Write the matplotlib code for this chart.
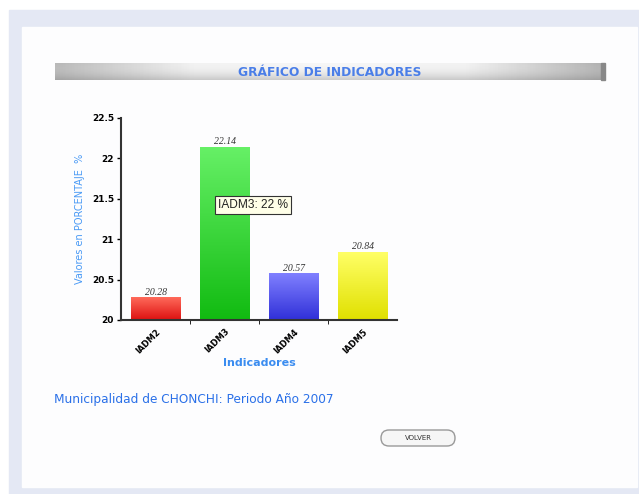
import matplotlib
matplotlib.use("Agg")
import matplotlib.pyplot as plt
import numpy as np
from matplotlib.patches import Rectangle, FancyBboxPatch
from matplotlib.colors import LinearSegmentedColormap

categories = ["IADM2", "IADM3", "IADM4", "IADM5"]
values = [20.28, 22.14, 20.57, 20.84]
value_labels = ["20.28", "22.14", "20.57", "20.84"]
yticks = [20, 20.5, 21, 21.5, 22, 22.5]
ytick_labels = ["20", "20.5", "21", "21.5", "22", "22.5"]
bar_colors = [("#ff6a5a", "#dd1111"), ("#66f066", "#11bb11"),
              ("#8080ff", "#3030d8"), ("#ffff66", "#e0e000")]

W, H = 639, 494
fig = plt.figure(figsize=(W / 100, H / 100), dpi=100)
fig.patch.set_facecolor("white")

def px(x, y, w, h):
    return (x / W, 1 - (y + h) / H, w / W, h / H)

# page frame
bg = fig.add_axes([0, 0, 1, 1], zorder=-5)
bg.set_xlim(0, W); bg.set_ylim(H, 0); bg.axis("off")
bg.add_patch(Rectangle((9, 10), W - 9, H - 10, color="#e4e8f4"))
bg.add_patch(Rectangle((22, 27), 615, 460, color="#fdfdfe"))

# title bar with gray gradient
grad = np.linspace(0, 1, 200).reshape(1, -1)
tcmap = LinearSegmentedColormap.from_list("t", ["#b8b8b8", "#f2f2f2", "#f7f7f7", "#f2f2f2", "#b0b0b0"])
bg.imshow(grad, extent=(55, 605, 80, 63), cmap=tcmap, aspect="auto", zorder=1)
bg.imshow(np.linspace(0, 1, 20).reshape(-1, 1), extent=(55, 605, 80, 63),
          cmap=LinearSegmentedColormap.from_list("v", [(1, 1, 1, 0.0), (0.5, 0.5, 0.5, 0.35)]),
          aspect="auto", zorder=2)
bg.add_patch(Rectangle((601, 63), 4, 17, color="#888888", zorder=3))
bg.text(330, 72, "GRÁFICO DE INDICADORES", color="#4a7ee8", fontsize=8.8,
        fontweight="bold", ha="center", va="center", zorder=4)

# footer text
bg.text(54, 399, "Municipalidad de CHONCHI: Periodo Año 2007", color="#2a70e8",
        fontsize=8.7, ha="left", va="center")

# button
bg.add_patch(FancyBboxPatch((381, 430), 74, 16, boxstyle="round,pad=0,rounding_size=8",
                            fc="#f6f6f6", ec="#999999", lw=1.0))
bg.text(418, 438, "VOLVER", fontsize=5, ha="center", va="center", color="#333333")

# chart
ax = fig.add_axes(px(121, 118, 276, 202))
x = np.arange(len(categories))
bw = 0.72
ax.bar(x, values, width=bw, color="none", edgecolor="none")
for xi, v, (top, bot), lab in zip(x, values, bar_colors, value_labels):
    cmap = LinearSegmentedColormap.from_list("b", [bot, top])
    ax.imshow(np.linspace(0, 1, 100).reshape(-1, 1), extent=(xi - bw / 2, xi + bw / 2, 20, v),
              origin="lower", cmap=cmap, aspect="auto", zorder=2)
    ax.text(xi, v + 0.01, lab, ha="center", va="bottom", fontsize=7,
            fontstyle="italic", family="Liberation Serif", color="#333333", zorder=3)
ax.set_xlim(-0.5, 3.5)
ax.set_ylim(20, 22.5)

ax.set_yticks(yticks)
ax.set_yticklabels(ytick_labels, fontsize=6.5, fontweight="bold")
ax.set_xticks(x)
ax.set_xticklabels(categories, rotation=45, ha="right", rotation_mode="anchor",
                   fontsize=6, fontweight="bold")
ax.set_xticks([0.5, 1.5, 2.5], minor=True)
ax.tick_params(axis="x", which="major", length=0, pad=5)
ax.tick_params(axis="x", which="minor", length=3, direction="out")
ax.tick_params(axis="y", length=3, width=1, pad=2)
for s in ["top", "right"]:
    ax.spines[s].set_visible(False)
for s in ["left", "bottom"]:
    ax.spines[s].set_linewidth(1.5)
    ax.spines[s].set_color("#333333")
ax.set_facecolor("none")
ax.set_ylabel("Valores en PORCENTAJE  %", color="#4a9af5", fontsize=7, labelpad=5)
ax.set_xlabel("Indicadores", color="#3a8cf0", fontsize=8, fontweight="bold", labelpad=2)

# tooltip
ax.text(0.91, 21.42, "IADM3: 22 %", fontsize=8.6, family="Liberation Sans", va="center",
        ha="left", color="#222222", zorder=5,
        bbox=dict(boxstyle="square,pad=0.25", fc="#ffffe8", ec="#333333", lw=0.8))

fig.savefig("out.png", dpi=100)
